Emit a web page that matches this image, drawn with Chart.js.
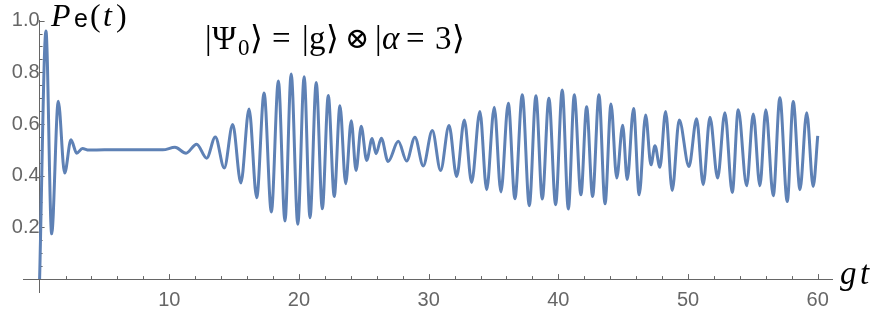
<!DOCTYPE html>
<html>
<head>
<meta charset="utf-8">
<script src="https://cdn.jsdelivr.net/npm/chart.js@4.4.0/dist/chart.umd.min.js"></script>
<style>
  html, body { margin: 0; padding: 0; background: #fff; }
  #wrap { width: 877px; height: 313px; }
</style>
</head>
<body>
<div id="wrap"><canvas id="chart" width="877" height="313"></canvas></div>
<script>
// extrema of P_e(t) (t, value)
const tKnots = [
  0, 0.49, 0.93, 1.44, 1.93, 2.42, 2.86, 3.3, 3.8, 5, 7, 9.5,
  10.44, 11.29, 12.11, 12.88, 13.55, 14.24, 14.89, 15.52, 16.15, 16.74,
  17.31, 17.87, 18.41, 18.92, 19.4, 19.91, 20.4, 20.85, 21.33, 21.8,
  22.26, 22.72, 23.16, 23.6, 24.03, 24.4, 24.8, 25.22, 25.64, 25.94,
  26.35, 26.87, 27.66, 28.3, 28.94, 29.58, 30.28, 30.92, 31.57, 32.16,
  32.75, 33.31, 33.95, 34.47, 35.06, 35.57, 36.14, 36.65, 37.22, 37.76,
  38.27, 38.76, 39.27, 39.79, 40.3, 40.77, 41.23, 41.74, 42.18, 42.64,
  43.13, 43.6, 44.06, 44.5, 44.96, 45.31, 45.8, 46.23, 46.73, 47.14,
  47.45, 47.83, 48.27, 48.78, 49.32, 50.07, 50.66, 51.17, 51.69, 52.28,
  52.84, 53.41, 53.87, 54.52, 55.03, 55.54, 56.0, 56.57, 57.08, 57.65,
  58.11, 58.63, 59.15, 59.65, 60
]
const pKnots = [
  0, 0.96, 0.175, 0.688, 0.41, 0.539, 0.487, 0.505, 0.499, 0.5, 0.5, 0.5,
  0.51, 0.487, 0.522, 0.468, 0.55, 0.43, 0.598, 0.372, 0.658, 0.315,
  0.72, 0.26, 0.766, 0.225, 0.794, 0.212, 0.783, 0.237, 0.761, 0.272,
  0.71, 0.32, 0.671, 0.369, 0.613, 0.42, 0.591, 0.459, 0.544, 0.485,
  0.545, 0.455, 0.533, 0.457, 0.549, 0.438, 0.575, 0.42, 0.594, 0.397,
  0.616, 0.374, 0.648, 0.346, 0.665, 0.337, 0.68, 0.311, 0.713, 0.284,
  0.709, 0.31, 0.7, 0.288, 0.732, 0.271, 0.713, 0.326, 0.667, 0.32,
  0.713, 0.291, 0.677, 0.391, 0.595, 0.385, 0.66, 0.326, 0.635, 0.442,
  0.516, 0.433, 0.648, 0.343, 0.616, 0.436, 0.62, 0.365, 0.626, 0.391,
  0.644, 0.335, 0.655, 0.361, 0.639, 0.361, 0.655, 0.322, 0.702, 0.3,
  0.687, 0.346, 0.644, 0.358, 0.554
]

const xTicks = [10, 20, 30, 40, 50, 60]
const yTicks = [0.2, 0.4, 0.6, 0.8, 1.0]

const axisColor = '#666666'
const lineColor = '#5e81b5'
const serif = "'Liberation Serif', 'DejaVu Serif', serif"

// mathematica style inward tick marks
const tickMarks = {
  id: 'tickMarks',
  beforeDatasetsDraw(chart) {
    const {ctx, scales: {x, y}} = chart
    const x0 = x.getPixelForValue(0)
    const y0 = y.getPixelForValue(0)
    ctx.save()
    ctx.strokeStyle = axisColor
    ctx.lineWidth = 1
    ctx.beginPath()
    for (let v = 2; v <= 60; v += 2) {
      const px = Math.round(x.getPixelForValue(v)) + 0.5
      const len = v % 10 === 0 ? 5 : 3
      ctx.moveTo(px, y0)
      ctx.lineTo(px, y0 - len)
    }
    for (let k = 1; k <= 20; k++) {
      const py = Math.round(y.getPixelForValue(k * 0.05)) + 0.5
      const len = k % 4 === 0 ? 5 : 3
      ctx.moveTo(x0, py)
      ctx.lineTo(x0 + len, py)
    }
    ctx.stroke()
    ctx.restore()
  }
}

// glyphs placed one by one, mathematica spaces them widely
const placeGlyphs = (ctx, y, glyphs) => {
  glyphs.forEach(([text, x, font, dy]) => {
    ctx.font = font
    ctx.fillText(text, x, y + (dy || 0))
  })
}

const labels = {
  id: 'labels',
  afterDraw(chart) {
    const {ctx} = chart
    ctx.save()
    ctx.fillStyle = '#000'
    ctx.textBaseline = 'alphabetic'
    ctx.textAlign = 'left'
    const big = `33px ${serif}`
    const bigI = `italic 33px ${serif}`
    const sub = `23px ${serif}`
    placeGlyphs(ctx, 49, [
      ['|', 205, big], ['Ψ', 212, big], ['0', 238, sub, 6], ['⟩', 250, big],
      ['=', 272, big], ['|', 302, big], ['g', 309, big], ['⟩', 326, big],
      ['⊗', 345, `29px ${serif}`, -1], ['|', 375, big], ['α', 382, bigI],
      ['=', 406, big], ['3', 435, big], ['⟩', 452, big]
    ])
    placeGlyphs(ctx, 26, [
      ['P', 51, `italic 32px ${serif}`],
      ['e', 74, "25px 'Liberation Sans', sans-serif", 1],
      ['(', 90, `32px ${serif}`],
      ['t', 103, `italic 32px ${serif}`],
      [')', 116, `32px ${serif}`]
    ])
    placeGlyphs(ctx, 284, [
      ['g', 840, `italic 33px ${serif}`],
      ['t', 860, `italic 33px ${serif}`]
    ])
    ctx.restore()
  }
}

const points = tKnots.map((t, i) => ({x: t, y: pKnots[i]}))

new Chart(document.getElementById('chart'), {
  type: 'line',
  data: {
    datasets: [{
      data: points,
      borderColor: lineColor,
      borderWidth: 3,
      pointRadius: 0,
      cubicInterpolationMode: 'monotone',
      fill: false
    }]
  },
  options: {
    responsive: false,
    animation: false,
    layout: {padding: {left: 23, right: 45, top: 20, bottom: 21}},
    plugins: {legend: {display: false}, tooltip: {enabled: false}},
    scales: {
      x: {
        type: 'linear',
        min: -1.28,
        max: 61.1,
        position: {y: 0},
        afterBuildTicks: (s) => { s.ticks = xTicks.map(v => ({value: v})) },
        grid: {drawOnChartArea: false, drawTicks: false},
        border: {color: axisColor, width: 1},
        ticks: {
          color: axisColor,
          padding: 9,
          maxRotation: 0,
          font: {family: "'Liberation Sans', sans-serif", size: 20}
        }
      },
      y: {
        type: 'linear',
        min: -0.05,
        max: 1.0025,
        position: {x: 0},
        afterBuildTicks: (s) => { s.ticks = yTicks.map(v => ({value: v})) },
        grid: {drawOnChartArea: false, drawTicks: false},
        border: {color: axisColor, width: 1},
        ticks: {
          color: axisColor,
          padding: 8,
          callback: (v) => v.toFixed(1),
          font: {family: "'Liberation Sans', sans-serif", size: 20}
        }
      }
    }
  },
  plugins: [tickMarks, labels]
})
</script>
</body>
</html>
